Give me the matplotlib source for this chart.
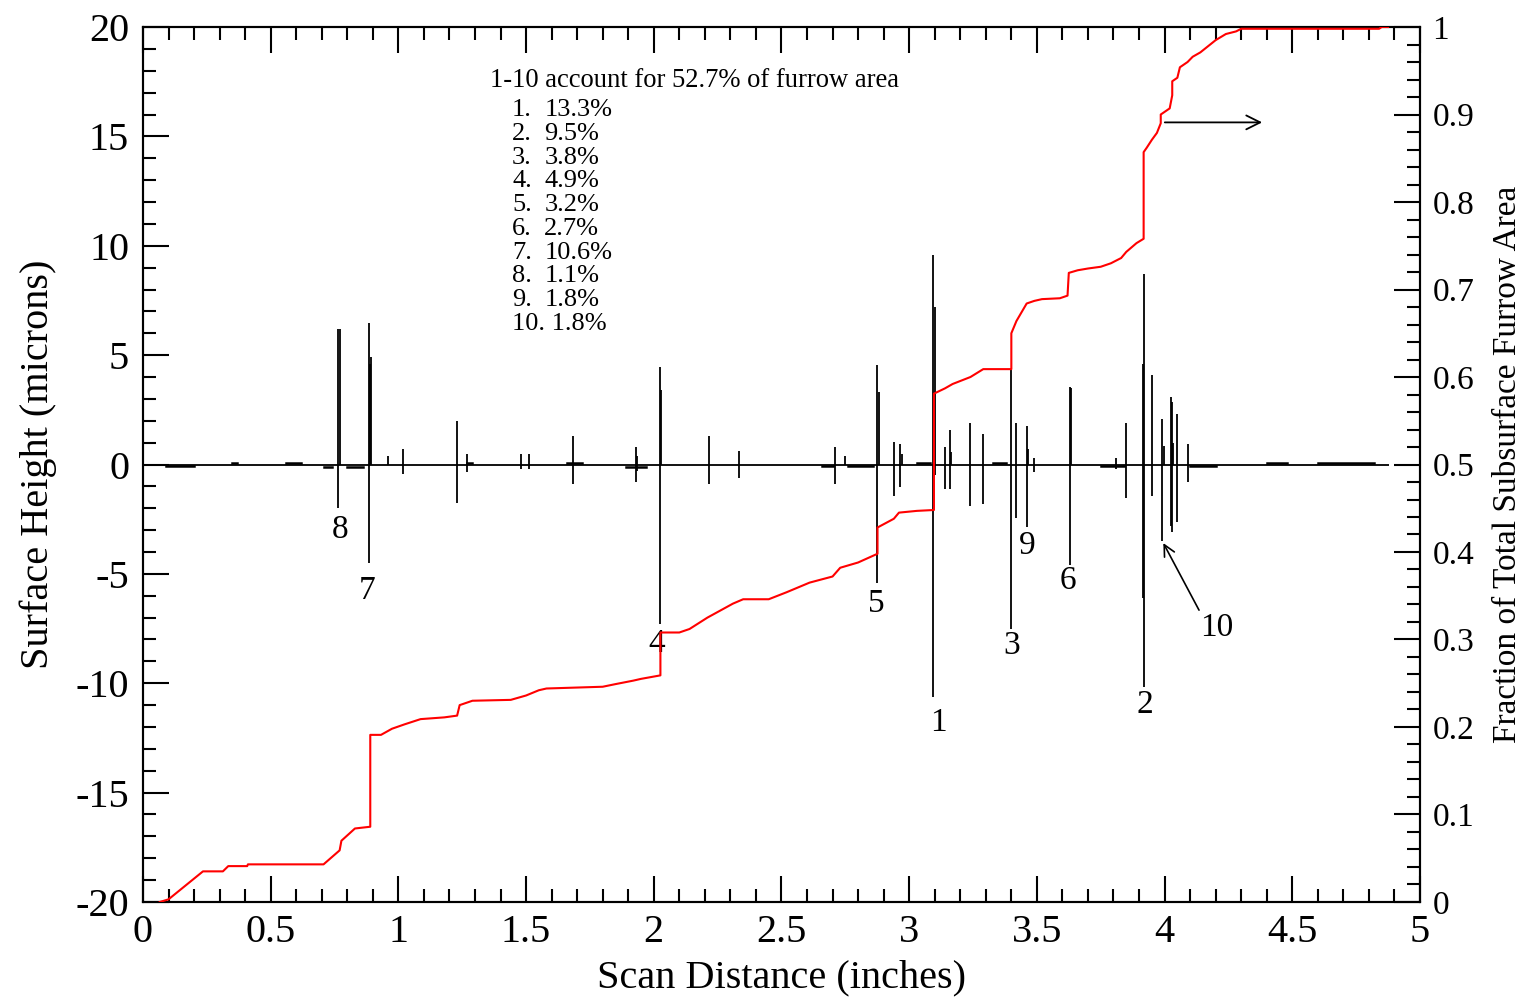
import matplotlib
matplotlib.use("Agg")
import matplotlib.pyplot as plt
from matplotlib.ticker import MultipleLocator

plt.rcParams['font.family'] = ['Liberation Serif', 'DejaVu Serif']
plt.rcParams['axes.unicode_minus'] = False

# ---- Surface profile spikes (inches, microns) ----
spike_x = [0.765, 0.770, 0.884, 0.890, 0.894, 0.96, 1.02, 1.23, 1.27, 1.48, 1.51,
           1.685, 1.93, 1.935, 2.024, 2.030, 2.215, 2.335, 2.71, 2.75,
           2.875, 2.880, 2.94, 2.965, 2.972, 3.095, 3.102, 3.14, 3.16, 3.165, 3.24, 3.29,
           3.40, 3.42, 3.46, 3.465, 3.49, 3.63, 3.635, 3.81, 3.85,
           3.915, 3.92, 3.95, 3.99, 3.996, 4.025, 4.03, 4.034, 4.05, 4.09]
spike_top = [6.2, 6.2, 6.45, 4.6, 4.9, 0.4, 0.7, 2.0, 0.5, 0.5, 0.5,
             1.3, 0.8, 0.4, 4.45, 3.4, 1.3, 0.6, 0.8, 0.4,
             4.55, 3.3, 1.05, 0.95, 0.5, 9.6, 7.2, 0.8, 1.6, 0.55, 1.9, 1.4,
             4.3, 1.9, 1.75, 0.7, 0.3, 3.55, 3.5, 0.3, 1.9,
             4.6, 8.7, 4.1, 2.1, 0.85, 3.1, 2.85, 1.0, 2.3, 0.95]
spike_bottom = [-2.0, 0.0, -4.5, 0.0, 0.0, 0.0, -0.45, -1.75, -0.35, -0.2, -0.2,
                -0.9, -0.8, -0.3, -7.3, 0.0, -0.9, -0.6, -0.9, 0.0,
                -5.4, 0.0, -1.45, -1.05, 0.0, -10.65, -0.5, -1.1, -1.1, 0.0, -1.9, -1.8,
                -7.5, -2.45, -2.85, 0.0, -0.35, -4.6, 0.0, -0.2, -1.55,
                -6.1, -10.15, -1.45, -3.5, 0.0, -2.8, -3.1, 0.0, -2.65, -0.8]

# small near-baseline roughness (start, end, offset in microns)
noise_start = [0.09, 0.35, 0.56, 0.71, 0.80, 1.27, 1.66, 1.89, 2.66, 2.76, 3.03, 3.33, 3.75, 4.10, 4.40, 4.60]
noise_end   = [0.20, 0.37, 0.62, 0.74, 0.86, 1.29, 1.72, 1.97, 2.70, 2.86, 3.08, 3.38, 3.84, 4.20, 4.48, 4.82]
noise_off   = [-0.08, 0.08, 0.08, -0.1, -0.1, 0.08, 0.08, -0.1, -0.08, -0.08, 0.08, 0.08, -0.08, -0.08, 0.06, 0.06]

baseline_end = 4.88

# ---- Cumulative fraction of furrow area ----
cum_x = [0.066, 0.10, 0.235, 0.313, 0.313, 0.334, 0.408, 0.411, 0.707, 0.77, 0.777, 0.83, 0.89,
         0.89, 0.932, 0.975, 1.024, 1.087, 1.18, 1.23, 1.24, 1.29, 1.44, 1.50, 1.55, 1.58, 1.80,
         1.85, 1.92, 1.95, 2.026, 2.026, 2.10, 2.14, 2.21, 2.31, 2.35, 2.45, 2.52, 2.61, 2.70,
         2.73, 2.80, 2.876, 2.876, 2.94, 2.96, 3.03, 3.097, 3.097, 3.14, 3.17, 3.24, 3.29, 3.40,
         3.40, 3.42, 3.46, 3.49, 3.52, 3.59, 3.62, 3.625, 3.66, 3.70, 3.75, 3.79, 3.83, 3.85,
         3.89, 3.918, 3.918, 3.93, 3.95, 3.97, 3.985, 3.985, 4.02, 4.03, 4.03, 4.05, 4.06,
         4.09, 4.11, 4.14, 4.17, 4.20, 4.24, 4.28, 4.30, 4.84, 4.85, 4.875]
cum_f = [0.0, 0.003, 0.035, 0.035, 0.035, 0.041, 0.041, 0.043, 0.043, 0.059, 0.070, 0.084, 0.086,
         0.191, 0.191, 0.198, 0.203, 0.209, 0.211, 0.213, 0.225, 0.230, 0.231, 0.236, 0.242, 0.244, 0.246,
         0.249, 0.253, 0.255, 0.259, 0.308, 0.308, 0.312, 0.325, 0.341, 0.346, 0.346, 0.354, 0.365, 0.372,
         0.382, 0.388, 0.398, 0.428, 0.438, 0.445, 0.447, 0.448, 0.581, 0.587, 0.592, 0.600, 0.609, 0.609,
         0.650, 0.664, 0.684, 0.687, 0.689, 0.690, 0.693, 0.719, 0.722, 0.724, 0.726, 0.730, 0.736, 0.743,
         0.753, 0.758, 0.857, 0.862, 0.871, 0.879, 0.890, 0.900, 0.907, 0.922, 0.938, 0.942, 0.954,
         0.960, 0.966, 0.971, 0.978, 0.985, 0.992, 0.995, 0.998, 0.998, 1.0, 1.0]

# ---- Labels ----
label_text = ['8', '7', '4', '5', '1', '3', '9', '6', '2', '10']
label_x = [0.771, 0.877, 2.013, 2.87, 3.113, 3.40, 3.461, 3.622, 3.923, 4.205]
label_y = [-3.0, -5.77, -8.2, -6.36, -11.8, -8.28, -3.7, -5.3, -11.0, -7.46]

header = "1-10 account for 52.7% of furrow area"
rank_names = ['1.', '2.', '3.', '4.', '5.', '6.', '7.', '8.', '9.', '10.']
rank_pct = ['13.3%', '9.5%', '3.8%', '4.9%', '3.2%', '2.7%', '10.6%', '1.1%', '1.8%', '1.8%']

fig = plt.figure(figsize=(15.29, 9.97), dpi=100)
ax = fig.add_axes([0.0935, 0.0953, 0.8352, 0.8776])
ax2 = ax.twinx()

# black profile
ax.hlines(0, 0, baseline_end, color='black', lw=1.3, zorder=3)
ax.vlines(spike_x, spike_bottom, spike_top, color='black', lw=1.3, zorder=3)
for s, e, o in zip(noise_start, noise_end, noise_off):
    ax.plot([s, e], [o, o], color='black', lw=1.8, zorder=3)

ax.set_xlim(0, 5)
ax.set_ylim(-20, 20)
ax2.set_ylim(0, 1)

ax2.plot(cum_x, cum_f, color='red', lw=1.5, zorder=4)

# tick styling
for a in (ax, ax2):
    for sp in a.spines.values():
        sp.set_linewidth(1.5)
ax.xaxis.set_major_locator(MultipleLocator(0.5))
ax.xaxis.set_minor_locator(MultipleLocator(0.1))
ax.yaxis.set_major_locator(MultipleLocator(5))
ax.yaxis.set_minor_locator(MultipleLocator(1))
ax2.yaxis.set_major_locator(MultipleLocator(0.1))
ax2.yaxis.set_minor_locator(MultipleLocator(0.02))

ax.tick_params(axis='x', which='both', direction='in', top=True, bottom=True, width=1.5)
ax.tick_params(axis='y', which='both', direction='in', left=True, right=False, width=1.5)
ax.tick_params(which='major', length=19)
ax.tick_params(which='minor', length=9.5)
ax.tick_params(axis='x', which='major', labelsize=29, pad=9)
ax.tick_params(axis='y', which='major', labelsize=29, pad=10)
ax2.tick_params(axis='y', which='both', direction='in', width=1.5)
ax2.tick_params(axis='y', which='major', length=19, labelsize=24, pad=9)
ax2.tick_params(axis='y', which='minor', length=9.5)

ax.xaxis.set_major_formatter(matplotlib.ticker.FuncFormatter(lambda v, p: f"{v:g}"))
ax.yaxis.set_major_formatter(matplotlib.ticker.FuncFormatter(lambda v, p: f"{v:g}"))
ax2.yaxis.set_major_formatter(matplotlib.ticker.FuncFormatter(lambda v, p: f"{v:g}"))

ax.set_xlabel("Scan Distance (inches)", fontsize=29, labelpad=6)
ax.set_ylabel("Surface Height (microns)", fontsize=29, labelpad=13)
ax2.set_ylabel("Fraction of Total Subsurface Furrow Area", fontsize=24, labelpad=13)

# spike labels
for t, x, y in zip(label_text, label_x, label_y):
    ax.text(x, y, t, fontsize=24, ha='center', va='center', zorder=5)

# arrow to spike 10
ax.annotate("", xy=(3.99, -3.48), xytext=(4.14, -6.77),
            arrowprops=dict(arrowstyle='->', color='black', lw=1.2, mutation_scale=20))
# arrow pointing to right axis
ax2.annotate("", xy=(4.393, 0.891), xytext=(3.99, 0.891),
             arrowprops=dict(arrowstyle='->', color='black', lw=1.3, mutation_scale=25))

# text block
ax.text(1.359, 17.57, header, fontsize=19.2, ha='left', va='center')
for i, (n, p) in enumerate(zip(rank_names, rank_pct)):
    y = 16.2 - i * 1.085
    if len(n) > 2:
        ax.text(1.445, y, n + " " + p, fontsize=19, ha='left', va='center')
    else:
        ax.text(1.445, y, n, fontsize=19, ha='left', va='center')
        ax.text(1.571, y, p, fontsize=19, ha='left', va='center')

fig.savefig("out.png", dpi=100)
